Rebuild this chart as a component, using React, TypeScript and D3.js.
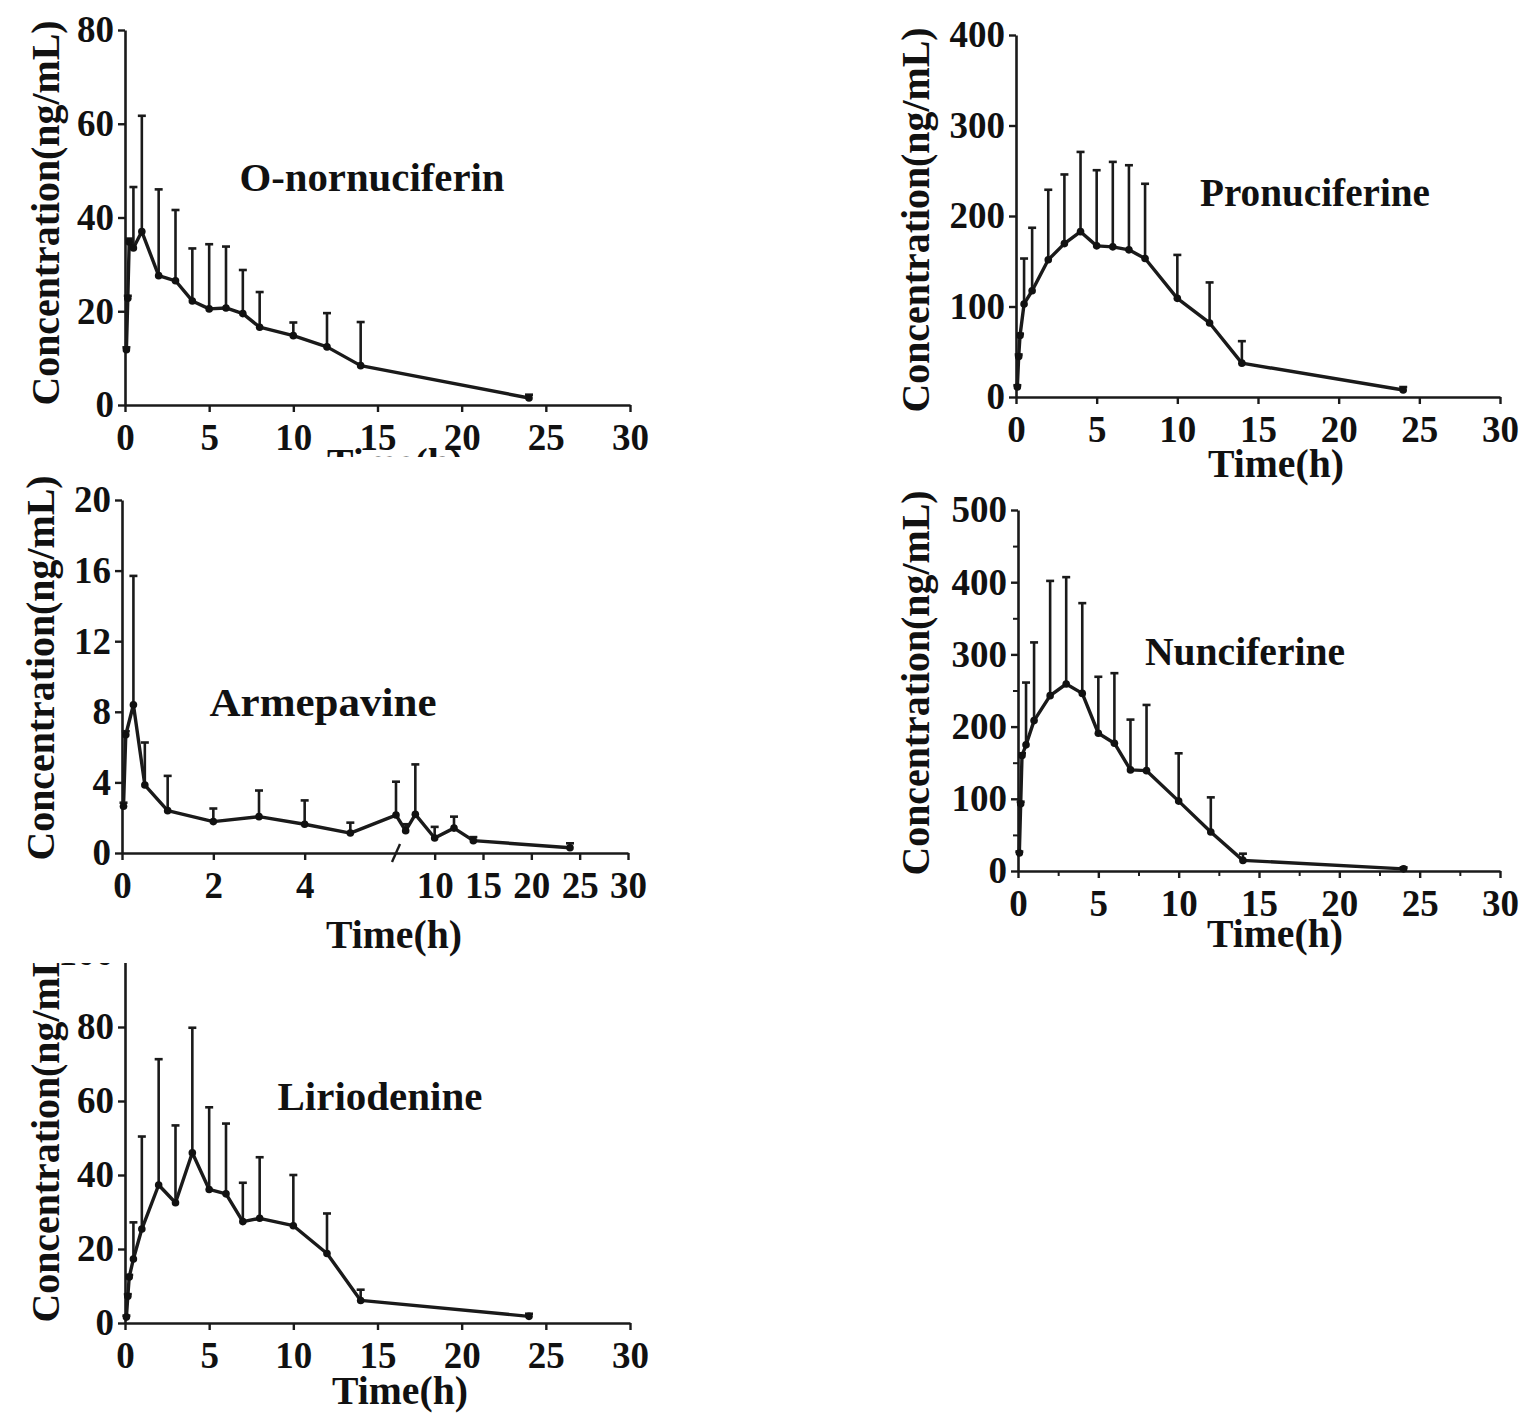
import React, { useEffect, useRef } from 'react';
import * as d3 from 'd3';

// ---------- DATA ----------
const onorTimes = [0.083, 0.167, 0.25, 0.5, 1, 2, 3, 4, 5, 6, 7, 8, 10, 12, 14, 24];
const onorMean = [11.8, 22.8, 34.8, 33.5, 37.0, 27.6, 26.5, 22.2, 20.5, 20.7, 19.5, 16.6, 14.8, 12.4, 8.4, 1.5];
const onorSD = [0.5, 0.5, 0.7, 13.0, 24.7, 18.4, 15.1, 11.2, 13.8, 13.1, 9.3, 7.5, 2.8, 7.2, 9.3, 0.7];

const pronTimes = [0.083, 0.167, 0.25, 0.5, 1, 2, 3, 4, 5, 6, 7, 8, 10, 12, 14, 24];
const pronMean = [11, 44.8, 67.9, 102.8, 117.4, 151.6, 169.5, 182.7, 167, 165.9, 162.6, 153, 109, 81.8, 37.4, 7.7];
const pronSD = [2, 2.2, 2.1, 50.2, 69.6, 77.4, 76.4, 88.1, 83.6, 93.9, 93.5, 82.6, 48, 44.8, 24.3, 3.3];

const armeTimes = [0.033, 0.083, 0.25, 0.5, 1, 2, 3, 4, 5, 6, 7, 8, 10, 12, 14, 24];
const armeMean = [2.65, 6.7, 8.4, 3.85, 2.4, 1.78, 2.06, 1.63, 1.13, 2.15, 1.26, 2.19, 0.85, 1.41, 0.7, 0.3];
const armeSD = [0.2, 0.2, 7.3, 2.41, 1.97, 0.74, 1.48, 1.35, 0.59, 1.89, 0.37, 2.83, 0.63, 0.65, 0.2, 0.25];

const nuncTimes = [0.083, 0.167, 0.25, 0.5, 1, 2, 3, 4, 5, 6, 7, 8, 10, 12, 14, 24];
const nuncMean = [24.9, 93, 160, 174.7, 208.3, 242.9, 259, 246, 190.8, 177, 140, 139, 96.8, 54, 14.7, 3];
const nuncSD = [2, 3, 3, 86.3, 108.3, 158.9, 148, 125, 78.2, 97, 69.7, 91, 66.2, 48, 9.3, 2];

const lirioTimes = [0.083, 0.167, 0.25, 0.5, 1, 2, 3, 4, 5, 6, 7, 8, 10, 12, 14, 24];
const lirioMean = [1.6, 7.2, 12.4, 17.3, 25.4, 37.3, 32.5, 46, 36.1, 34.9, 27.4, 28.3, 26.3, 18.8, 6.1, 1.8];
const lirioSD = [0.4, 0.6, 0.6, 9.9, 25, 34, 20.9, 33.8, 22.2, 19, 10.5, 16.5, 13.7, 10.8, 2.9, 0.7];

const xTicksStd = [0, 5, 10, 15, 20, 25, 30];
const armeXTicks = [0, 2, 4, 10, 15, 20, 25, 30];
const onorYTicks = [0, 20, 40, 60, 80];
const pronYTicks = [0, 100, 200, 300, 400];
const armeYTicks = [0, 4, 8, 12, 16, 20];
const nuncYTicks = [0, 100, 200, 300, 400, 500];
const lirioYTicks = [0, 20, 40, 60, 80, 100];
const nuncXMinor = [2.5, 7.5, 12.5, 17.5, 22.5, 27.5];
const nuncYMinor = [50, 150, 250, 350, 450];

const titles = ['O-nornuciferin', 'Pronuciferine', 'Armepavine', 'Nunciferine', 'Liriodenine'];
const yLabelText = 'Concentration(ng/mL)';
const xLabelText = 'Time(h)';

// ---------- LAYOUT ----------
const FONT = "'Liberation Serif', 'Times New Roman', serif";
const INK = '#1a1a1a';

type Panel = {
  times: number[]; mean: number[]; sd: number[];
  xDomain: number[]; xRange: number[]; yDomain: number[]; yRange: number[];
  xTicks: number[]; yTicks: number[];
  title: string; titlePos: [number, number, number];
  yLab: [number, number]; xLab: [number, number];
  xLabClip?: [number, number];
  panelClipTop?: number;
  xMinor?: number[]; yMinor?: number[];
  breakAt?: number;
};

const panels: Panel[] = [
  {
    times: onorTimes, mean: onorMean, sd: onorSD,
    xDomain: [0, 30], xRange: [125, 630], yDomain: [0, 80], yRange: [405, 30],
    xTicks: xTicksStd, yTicks: onorYTicks,
    title: titles[0], titlePos: [372, 191, 265],
    yLab: [45, 213], xLab: [395, 476], xLabClip: [440, 457],
  },
  {
    times: pronTimes, mean: pronMean, sd: pronSD,
    xDomain: [0, 30], xRange: [1016, 1500], yDomain: [0, 400], yRange: [397, 35],
    xTicks: xTicksStd, yTicks: pronYTicks,
    title: titles[1], titlePos: [1315, 206, 230],
    yLab: [915, 220], xLab: [1276, 477],
  },
  {
    times: armeTimes, mean: armeMean, sd: armeSD,
    xDomain: [0, 6, 30], xRange: [122, 396, 628], yDomain: [0, 20], yRange: [853, 500],
    xTicks: armeXTicks, yTicks: armeYTicks,
    title: titles[2], titlePos: [323, 716, 227],
    yLab: [40, 668], xLab: [394, 948], breakAt: 6,
  },
  {
    times: nuncTimes, mean: nuncMean, sd: nuncSD,
    xDomain: [0, 30], xRange: [1018, 1500], yDomain: [0, 500], yRange: [871, 510],
    xTicks: xTicksStd, yTicks: nuncYTicks,
    title: titles[3], titlePos: [1245, 665, 200],
    yLab: [915, 683], xLab: [1275, 947],
    xMinor: nuncXMinor, yMinor: nuncYMinor,
  },
  {
    times: lirioTimes, mean: lirioMean, sd: lirioSD,
    xDomain: [0, 30], xRange: [125, 630], yDomain: [0, 100], yRange: [1323, 953],
    xTicks: xTicksStd, yTicks: lirioYTicks,
    title: titles[4], titlePos: [380, 1110, 205],
    yLab: [45, 1130], xLab: [400, 1404], panelClipTop: 963,
  },
];

function styleAxis(sel: d3.Selection<SVGGElement, unknown, null, undefined>) {
  sel.select('.domain').attr('stroke', INK).attr('stroke-width', 2.6);
  sel.selectAll('.tick line').attr('stroke', INK).attr('stroke-width', 2.4);
  sel.selectAll('.tick text')
    .attr('fill', '#111')
    .attr('font-family', FONT)
    .attr('font-weight', 'bold')
    .attr('font-size', 37);
}

function drawPanel(svg: d3.Selection<SVGSVGElement, unknown, null, undefined>, p: Panel, idx: number) {
  const defs = svg.select<SVGDefsElement>('defs');
  const g = svg.append('g');
  if (p.panelClipTop !== undefined) {
    const id = `pclip${idx}`;
    defs.append('clipPath').attr('id', id)
      .append('rect').attr('x', 0).attr('y', p.panelClipTop).attr('width', 760).attr('height', 600);
    g.attr('clip-path', `url(#${id})`);
  }
  const x = d3.scaleLinear().domain(p.xDomain).range(p.xRange);
  const y = d3.scaleLinear().domain(p.yDomain).range(p.yRange);
  const y0 = p.yRange[0];
  const x0 = p.xRange[0];

  // minor ticks
  if (p.xMinor) {
    const m = g.append('g').attr('transform', `translate(0,${y0})`)
      .call(d3.axisBottom(x).tickValues(p.xMinor).tickSizeInner(5).tickSizeOuter(0).tickFormat(() => ''));
    m.select('.domain').remove();
    m.selectAll('.tick line').attr('stroke', INK).attr('stroke-width', 2);
  }
  if (p.yMinor) {
    const m = g.append('g').attr('transform', `translate(${x0},0)`)
      .call(d3.axisLeft(y).tickValues(p.yMinor).tickSizeInner(5).tickSizeOuter(0).tickFormat(() => ''));
    m.select('.domain').remove();
    m.selectAll('.tick line').attr('stroke', INK).attr('stroke-width', 2);
  }

  const xa = g.append('g').attr('transform', `translate(0,${y0})`)
    .call(d3.axisBottom(x).tickValues(p.xTicks).tickSizeInner(7).tickSizeOuter(0).tickPadding(12).tickFormat(d3.format('d')));
  styleAxis(xa);
  const ya = g.append('g').attr('transform', `translate(${x0},0)`)
    .call(d3.axisLeft(y).tickValues(p.yTicks).tickSizeInner(7).tickSizeOuter(0).tickPadding(4).tickFormat(d3.format('d')));
  styleAxis(ya);

  if (p.breakAt !== undefined) {
    const bx = x(p.breakAt);
    g.append('line').attr('x1', bx - 4).attr('y1', y0 + 9).attr('x2', bx + 4).attr('y2', y0 - 9)
      .attr('stroke', INK).attr('stroke-width', 2.4);
  }

  // error bars
  const eb = g.append('g').attr('stroke', INK).attr('stroke-width', 2.6);
  p.times.forEach((t, i) => {
    const xt = x(t);
    const yTop = y(p.mean[i] + p.sd[i]);
    eb.append('line').attr('x1', xt).attr('x2', xt).attr('y1', y(p.mean[i])).attr('y2', yTop);
    eb.append('line').attr('x1', xt - 4).attr('x2', xt + 4).attr('y1', yTop).attr('y2', yTop);
  });

  // mean line
  const line = d3.line<number>().x((_, i) => x(p.times[i])).y((v) => y(v));
  g.append('path').attr('d', line(p.mean) || '').attr('fill', 'none')
    .attr('stroke', INK).attr('stroke-width', 3.4).attr('stroke-linejoin', 'round');

  g.selectAll(null).data(p.mean).enter().append('circle')
    .attr('cx', (_, i) => x(p.times[i])).attr('cy', (v) => y(v)).attr('r', 3.8).attr('fill', '#111');

  // title
  g.append('text').text(p.title)
    .attr('x', p.titlePos[0]).attr('y', p.titlePos[1])
    .attr('text-anchor', 'middle').attr('font-family', FONT).attr('font-weight', 'bold')
    .attr('font-size', 40).attr('fill', '#111')
    .attr('textLength', p.titlePos[2]).attr('lengthAdjust', 'spacingAndGlyphs');

  // y label
  g.append('text').text(yLabelText)
    .attr('transform', `translate(${p.yLab[0]},${p.yLab[1]}) rotate(-90)`)
    .attr('text-anchor', 'middle').attr('dy', '0.35em')
    .attr('font-family', FONT).attr('font-weight', 'bold').attr('font-size', 40).attr('fill', '#111')
    .attr('textLength', 385).attr('lengthAdjust', 'spacingAndGlyphs');

  // x label
  const xl = g.append('text').text(xLabelText)
    .attr('x', p.xLab[0]).attr('y', p.xLab[1])
    .attr('text-anchor', 'middle')
    .attr('font-family', FONT).attr('font-weight', 'bold').attr('font-size', 40).attr('fill', '#111')
    .attr('textLength', 136).attr('lengthAdjust', 'spacingAndGlyphs');
  if (p.xLabClip) {
    const id = `xlclip${idx}`;
    defs.append('clipPath').attr('id', id)
      .append('rect').attr('x', 0).attr('y', p.xLabClip[0]).attr('width', 760).attr('height', p.xLabClip[1] - p.xLabClip[0]);
    xl.attr('clip-path', `url(#${id})`);
  }
}

export default function App() {
  const ref = useRef<SVGSVGElement>(null);
  useEffect(() => {
    if (!ref.current) return;
    const svg = d3.select(ref.current);
    svg.selectAll('*').remove();
    svg.append('defs');
    svg.append('rect').attr('width', 1535).attr('height', 1418).attr('fill', '#fff');
    panels.forEach((p, i) => drawPanel(svg, p, i));
  }, []);
  return (
    <svg
      ref={ref}
      width={1535}
      height={1418}
      viewBox="0 0 1535 1418"
      style={{ position: 'absolute', left: 0, top: 0, background: '#fff' }}
    />
  );
}
